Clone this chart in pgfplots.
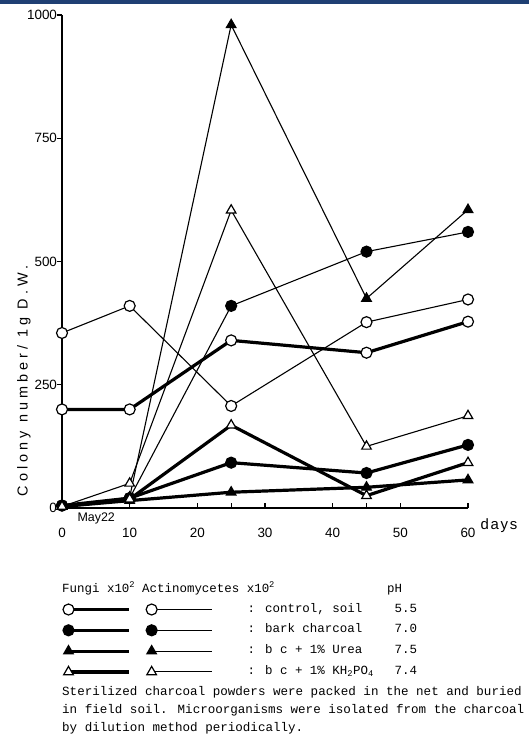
\documentclass[border=0pt]{standalone}
\usepackage{pgfplots}
\pgfplotsset{compat=1.18}
\usepackage{fontspec}
\setmainfont{Liberation Serif}
\setsansfont{Liberation Sans}
\newfontfamily\legfont{Liberation Mono}
\newfontfamily\ylabfont[LetterSpace=28]{Liberation Sans}
\newfontfamily\dayfont[LetterSpace=12]{Liberation Sans}
\definecolor{bandblue}{HTML}{1F3F73}

\begin{document}
\begin{tikzpicture}
% page frame, top-left origin
\path[use as bounding box] (0,0) rectangle (529bp,-748bp);
\fill[bandblue] (0,0) rectangle (529bp,-4bp);

\begin{axis}[
  at={(62bp,-508bp)}, anchor=south west,
  scale only axis, width=406bp, height=493bp,
  xmin=0, xmax=60, ymin=0, ymax=1000,
  clip=false,
  axis x line=bottom, axis y line=left,
  axis line style={-, line width=1.3bp},
  tick align=inside, major tick length=5bp,
  every tick/.style={black, line width=1.1bp},
  ytick style={xshift=-5bp},
  xtick={0,10,20,30,40,50,60},
  extra x ticks={25,45}, extra x tick labels={},
  ytick={0,250,500,750,1000},
  /pgf/number format/1000 sep={},
  /pgf/number format/assume math mode=true,
  ticklabel style={font=\sffamily\fontsize{13.5}{13.5}\selectfont},
  xticklabel style={yshift=-17bp},
  yticklabel style={xshift=-1.5bp},
  legend columns=2,
  legend cell align=left,
  legend image code/.code={%
    \draw[#1, mark repeat=2, mark phase=1] plot coordinates {(5.5bp,0bp) (66bp,0bp)};
    \path (0bp,0bp) (80bp,0bp);},
  legend style={draw=none, fill=none, inner sep=0pt, outer sep=0pt,
    column sep=0pt, row sep=9.8bp,
    at={(axis description cs:0,0)}, anchor=north west,
    xshift=-0.6bp, yshift=-96bp,
    font=\legfont\fontsize{12.5}{12.5}\selectfont,
    nodes={inner sep=0pt, text height=8bp, text depth=3bp}},
  fungi/.style={black, line width=3.2bp, mark size=5.5bp},
  actino/.style={black, line width=1.1bp, mark size=5.5bp},
]

% control, soil
\addplot[fungi, mark=*, mark options={solid, line width=1.2bp, fill=white}] coordinates
  {(0,200) (10,200) (25,340) (45,315) (60,378)};
\addlegendentry{}
\addplot[actino, mark=*, mark options={solid, line width=1.2bp, fill=white}] coordinates
  {(0,355) (10,410) (25,207) (45,377) (60,423)};
\addlegendentry{\hspace*{21bp}\makebox[147bp][l]{: control, soil}5.5}

% bark charcoal
\addplot[fungi, mark=*, mark options={solid, line width=1.2bp, fill=black}] coordinates
  {(0,5) (10,20) (25,92) (45,71) (60,128)};
\addlegendentry{}
\addplot[actino, mark=*, mark options={solid, line width=1.2bp, fill=black}] coordinates
  {(0,5) (10,20) (25,410) (45,520) (60,560)};
\addlegendentry{\hspace*{21bp}\makebox[147bp][l]{: bark charcoal}7.0}

% b c + 1% Urea
\addplot[fungi, mark=triangle*, mark options={solid, line width=1.2bp, fill=black}] coordinates
  {(0,3) (10,15) (25,32) (45,42) (60,57)};
\addlegendentry{}
\addplot[actino, mark=triangle*, mark options={solid, line width=1.2bp, fill=black}] coordinates
  {(0,3) (10,22) (25,980) (45,425) (60,605)};
\addlegendentry{\hspace*{21bp}\makebox[147bp][l]{: b c + 1\% Urea}7.5}

% b c + 1% KH2PO4
\addplot[fungi, mark=triangle*, mark options={solid, line width=1.2bp, fill=white}] coordinates
  {(0,3) (10,18) (25,168) (45,25) (60,92)};
\addlegendentry{}
\addplot[actino, mark=triangle*, mark options={solid, line width=1.2bp, fill=white}] coordinates
  {(0,3) (10,50) (25,604) (45,125) (60,187)};
\addlegendentry{\hspace*{21bp}\makebox[147bp][l]{: b c + 1\% KH\textsubscript{2}PO\textsubscript{4}}7.4}
\end{axis}

% axis titles
\node[rotate=90, font=\ylabfont\fontsize{14.5}{14.5}\selectfont] at (24bp,-381bp)
  {Colony number/ 1g D.W.};
\node[font=\dayfont\fontsize{15}{15}\selectfont, anchor=west] at (477bp,-526bp) {days};
\node[font=\sffamily\fontsize{12.5}{12.5}\selectfont, anchor=west] at (74bp,-518bp) {May22};

% legend header
\begin{scope}[every node/.style={anchor=base west, inner sep=0pt,
    font=\legfont\fontsize{12.5}{12.5}\selectfont}]
  \node at (62bp,-592bp) {Fungi x10\textsuperscript{2}};
  \node at (142bp,-592bp) {Actinomycetes x10\textsuperscript{2}};
  \node at (387bp,-592bp) {pH};
\end{scope}

% note below the legend
\node[anchor=north west, inner sep=0pt, align=left,
  font=\legfont\fontsize{12.6}{18}\selectfont] at (62bp,-686bp)
  {Sterilized charcoal powders were packed in the net and buried\\
   in field soil. Microorganisms were isolated from the charcoal\\
   by dilution method periodically.};
\end{tikzpicture}
\end{document}
